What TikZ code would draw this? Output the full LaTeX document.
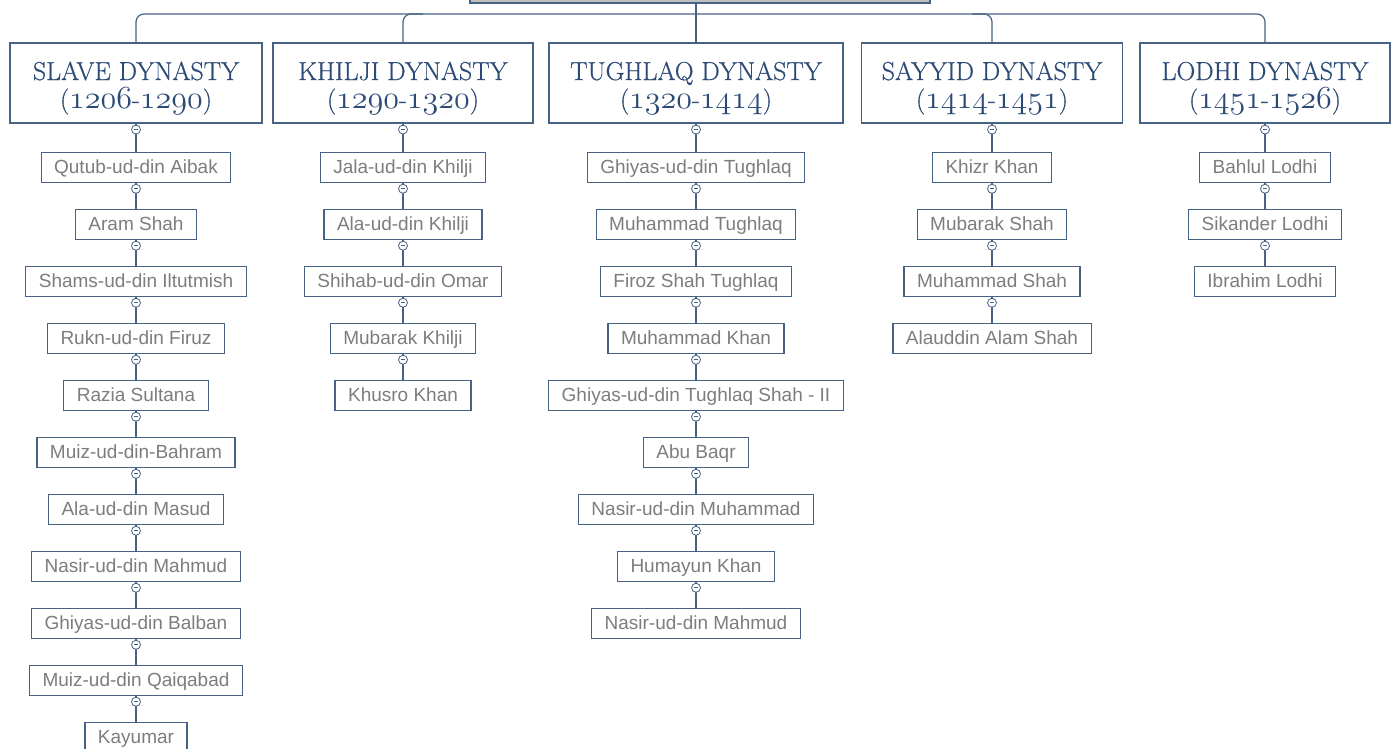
\documentclass[tikz,border=0pt]{standalone}
\usepackage{fontspec}
\usepackage{graphicx}
\usepackage{tikz}
\usetikzlibrary{positioning}

\newfontfamily\kingfont{Liberation Sans}
\newfontfamily\headfont[FakeBold=0.6]{Latin Modern Roman}
\definecolor{slate}{RGB}{70,98,132}
\definecolor{headblue}{RGB}{44,74,118}
\definecolor{kinggray}{RGB}{125,125,125}
\newcommand{\osn}[1]{\scalebox{1.29}{\usefont{OML}{cmm}{m}{it}#1}}
\newcommand{\years}[2]{(\osn{#1}-\osn{#2})}

\begin{document}
\begin{tikzpicture}[x=1pt, y=1pt, node distance=25.8pt,
  dyn/.style = {draw=slate, line width=1.3pt, fill=white, minimum height=80pt, align=center, text=headblue, font=\headfont\fontsize{26}{28}\selectfont},
  king/.style = {draw=slate, line width=1.2pt, fill=white, minimum height=30pt, inner xsep=13pt, inner ysep=6pt, text height=15pt, text depth=3pt, text=kinggray, font=\kingfont\fontsize{19}{22}\selectfont},
  knob/.style = {circle, draw=slate, fill=white, line width=0.8pt, minimum size=9pt, inner sep=0pt,
    path picture={\draw[slate, line width=0.6pt] ([xshift=-2.2pt]path picture bounding box.center) -- ([xshift=2.2pt]path picture bounding box.center);}},
  link/.style = {draw=slate, line width=1.2pt}]
		\useasboundingbox (0,0) rectangle (1396,-748);

		% top of the tree
		\node[draw=slate, fill=black!25, line width=1.2pt, minimum width=460pt, minimum height=40pt] (root) at (700,17) {};
		\coordinate (hub) at (696,-14);

		% dynasties
		\node[dyn, minimum width=252pt] (slave) at (136,-83) {\rule{0pt}{28.5pt}SLAVE DYNASTY\\\years{1206}{1290}};
		\node[dyn, minimum width=260pt] (khilji) at (403,-83) {\rule{0pt}{28.5pt}KHILJI DYNASTY\\\years{1290}{1320}};
		\node[dyn, minimum width=294pt] (tughlaq) at (696,-83) {\rule{0pt}{28.5pt}TUGHLAQ DYNASTY\\\years{1320}{1414}};
		\node[dyn, minimum width=261pt] (sayyid) at (992,-83) {\rule{0pt}{28.5pt}SAYYID DYNASTY\\\years{1414}{1451}};
		\node[dyn, minimum width=250pt] (lodhi) at (1265,-83) {\rule{0pt}{28.5pt}LODHI DYNASTY\\\years{1451}{1526}};

		\draw[link, rounded corners=8pt] (slave.north) |- (hub) -| (lodhi.north);
		\draw[link, rounded corners=8pt] (khilji.north) |- ([xshift=20pt]khilji.north |- hub);
		\draw[link, rounded corners=8pt] (sayyid.north) |- ([xshift=-20pt]sayyid.north |- hub);
		\draw[link] (root.south -| tughlaq.north) -- (tughlaq.north);

		% slave dynasty
		\node[king] (s1) [below=28pt of slave] {Qutub-ud-din Aibak};
		\node[king] (s2) [below=of s1] {Aram Shah};
		\node[king] (s3) [below=of s2] {Shams-ud-din Iltutmish};
		\node[king] (s4) [below=of s3] {Rukn-ud-din Firuz};
		\node[king] (s5) [below=of s4] {Razia Sultana};
		\node[king] (s6) [below=of s5] {Muiz-ud-din-Bahram};
		\node[king] (s7) [below=of s6] {Ala-ud-din Masud};
		\node[king] (s8) [below=of s7] {Nasir-ud-din Mahmud};
		\node[king] (s9) [below=of s8] {Ghiyas-ud-din Balban};
		\node[king] (s10) [below=of s9] {Muiz-ud-din Qaiqabad};
		\node[king] (s11) [below=of s10] {Kayumar};

		% khilji dynasty
		\node[king] (k1) [below=28pt of khilji] {Jala-ud-din Khilji};
		\node[king] (k2) [below=of k1] {Ala-ud-din Khilji};
		\node[king] (k3) [below=of k2] {Shihab-ud-din Omar};
		\node[king] (k4) [below=of k3] {Mubarak Khilji};
		\node[king] (k5) [below=of k4] {Khusro Khan};

		% tughlaq dynasty
		\node[king] (t1) [below=28pt of tughlaq] {Ghiyas-ud-din Tughlaq};
		\node[king] (t2) [below=of t1] {Muhammad Tughlaq};
		\node[king] (t3) [below=of t2] {Firoz Shah Tughlaq};
		\node[king] (t4) [below=of t3] {Muhammad Khan};
		\node[king] (t5) [below=of t4] {Ghiyas-ud-din Tughlaq Shah - II};
		\node[king] (t6) [below=of t5] {Abu Baqr};
		\node[king] (t7) [below=of t6] {Nasir-ud-din Muhammad};
		\node[king] (t8) [below=of t7] {Humayun Khan};
		\node[king] (t9) [below=of t8] {Nasir-ud-din Mahmud};

		% sayyid dynasty
		\node[king] (y1) [below=28pt of sayyid] {Khizr Khan};
		\node[king] (y2) [below=of y1] {Mubarak Shah};
		\node[king] (y3) [below=of y2] {Muhammad Shah};
		\node[king] (y4) [below=of y3] {Alauddin Alam Shah};

		% lodhi dynasty
		\node[king] (l1) [below=28pt of lodhi] {Bahlul Lodhi};
		\node[king] (l2) [below=of l1] {Sikander Lodhi};
		\node[king] (l3) [below=of l2] {Ibrahim Lodhi};

		\foreach \a/\b in {slave/s1, s1/s2, s2/s3, s3/s4, s4/s5, s5/s6, s6/s7, s7/s8, s8/s9, s9/s10, s10/s11,
		                   khilji/k1, k1/k2, k2/k3, k3/k4, k4/k5,
		                   tughlaq/t1, t1/t2, t2/t3, t3/t4, t4/t5, t5/t6, t6/t7, t7/t8, t8/t9,
		                   sayyid/y1, y1/y2, y2/y3, y3/y4,
		                   lodhi/l1, l1/l2, l2/l3} {
			\draw[link] (\a) -- (\b);
			\node[knob] (o-\b) [below=1pt of \a.south] {};
		}

	\end{tikzpicture}
\end{document}
